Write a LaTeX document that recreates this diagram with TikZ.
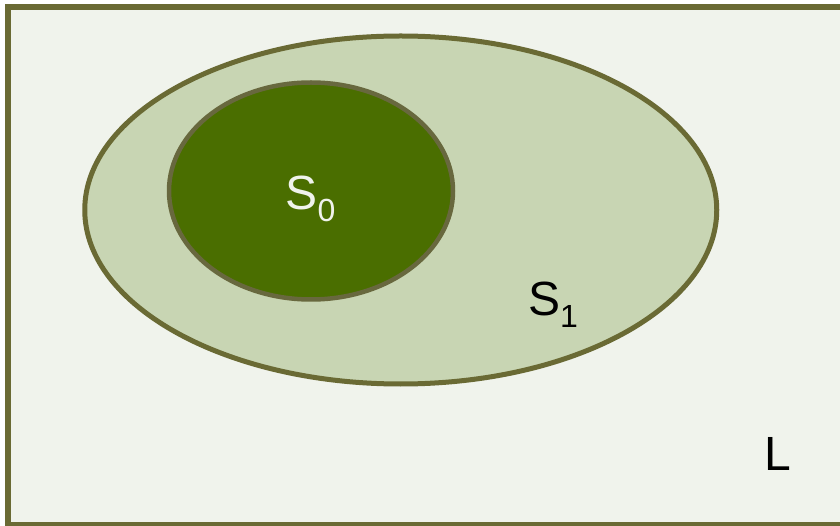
\documentclass[tikz,border=0pt]{standalone}
\usepackage{fontspec}
\setmainfont{Liberation Sans}
\definecolor{olive}{RGB}{106,106,52}
\definecolor{olivegray}{RGB}{104,104,62}
\definecolor{paper}{RGB}{240,243,236}
\definecolor{palegreen}{RGB}{200,213,179}
\definecolor{darkgreen}{RGB}{74,110,0}
\newcommand{\bigtext}{\fontsize{48}{56}\selectfont}
\newcommand{\lowsub}[1]{\raisebox{-12pt}{\fontsize{32}{36}\selectfont #1}}
\begin{document}
\begin{tikzpicture}[x=1pt, y=-1pt,
		setlabel/.style={anchor=base west, inner sep=0pt, font=\bigtext}]
		\useasboundingbox (0,0) rectangle (840,526);
		\draw[line width=6pt, color=olive, fill=paper] (8,7) rectangle (850,525);
		\draw[line width=5pt, color=olive, fill=palegreen] (400.75,210) ellipse (316 and 174);
		\draw[line width=4.5pt, color=olivegray, fill=darkgreen] (311,191) ellipse (142 and 108.5);

		\node[setlabel, text=paper] (s0label) at (285.5,210) {S\lowsub{0}};
		\node[setlabel] (s1label) at (528,316) {S\lowsub{1}};
		\node[setlabel] (llabel) at (764.5,470) {L};
	\end{tikzpicture}
\end{document}
